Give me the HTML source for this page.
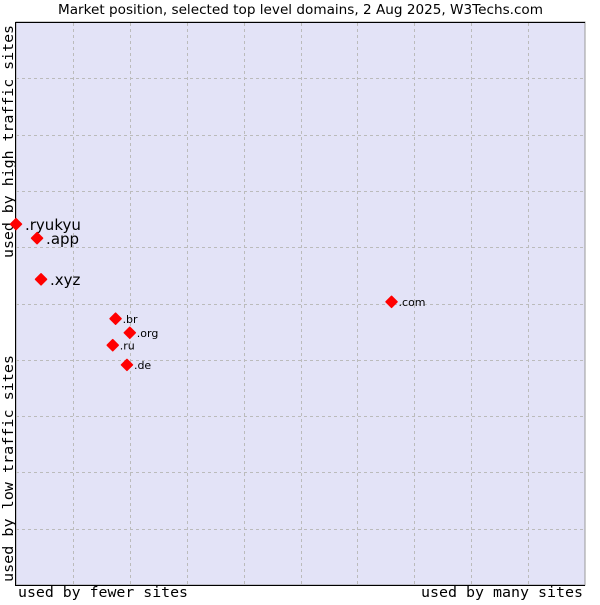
<!DOCTYPE html>
<html><head><meta charset="utf-8"><style>
body{margin:0;background:#fff;}
svg text{font-family:"DejaVu Sans","Liberation Sans",sans-serif;}
</style></head><body>
<svg id="chart" width="600" height="600" xmlns="http://www.w3.org/2000/svg">
<text x="58" y="14" textLength="485" lengthAdjust="spacingAndGlyphs" font-size="13" fill="#000">Market position, selected top level domains, 2 Aug 2025, W3Techs.com</text>
<rect x="16" y="22" width="569" height="563" fill="#e3e3f7" stroke="#999" stroke-width="1"/>
<g id="grid"></g>
<line x1="15.5" y1="22" x2="15.5" y2="585" stroke="#000"/>
<line x1="15" y1="22.5" x2="585" y2="22.5" stroke="#000"/>
<line x1="15" y1="585.5" x2="585" y2="585.5" stroke="#000"/>
<text transform="translate(13,258) rotate(-90)" textLength="233" lengthAdjust="spacingAndGlyphs" font-size="14" fill="#000" style="font-family:'DejaVu Sans Mono','Liberation Mono',monospace">used by high traffic sites</text>
<text transform="translate(13,582) rotate(-90)" textLength="227" lengthAdjust="spacingAndGlyphs" font-size="14" fill="#000" style="font-family:'DejaVu Sans Mono','Liberation Mono',monospace">used by low traffic sites</text>
<text x="18" y="597" textLength="170" lengthAdjust="spacingAndGlyphs" font-size="14" fill="#000" style="font-family:'DejaVu Sans Mono','Liberation Mono',monospace">used by fewer sites</text>
<text x="421" y="597" textLength="162" lengthAdjust="spacingAndGlyphs" font-size="14" fill="#000" style="font-family:'DejaVu Sans Mono','Liberation Mono',monospace">used by many sites</text>
<g id="points"></g>
</svg>
<script>
const domains=[".ryukyu",".app",".xyz",".com",".br",".org",".ru",".de"];
const xValues=[0,3.7,4.4,66.0,17.5,20.0,17.0,19.5];
const yValues=[64.1,61.6,54.3,50.3,47.3,44.8,42.6,39.1];
const labelSizes=[15,15,15,11,11,11,11,11];
const X0=16,X1=585,Y0=585,Y1=22;
const xs=v=>X0+v/100*(X1-X0);
const ys=v=>Y0-v/100*(Y0-Y1);
const NS="http://www.w3.org/2000/svg";
const grid=document.getElementById('grid');
for(let i=1;i<10;i++){
  const l=document.createElementNS(NS,'line');
  
  
  const x=Math.round(xs(i*10))+0.5;
  l.setAttribute('x1',x);l.setAttribute('x2',x);l.setAttribute('y1',23);l.setAttribute('y2',585);
  l.setAttribute('stroke','#bbb');l.setAttribute('stroke-dasharray','3,3');grid.appendChild(l);
  const h=document.createElementNS(NS,'line');
  
  
  const y=Math.round(ys(i*10))+0.5;
  h.setAttribute('x1',16);h.setAttribute('x2',585);h.setAttribute('y1',y);h.setAttribute('y2',y);
  h.setAttribute('stroke','#bbb');h.setAttribute('stroke-dasharray','3,3');grid.appendChild(h);
}
const pts=document.getElementById('points');
domains.forEach((d,i)=>{
  const x=xs(xValues[i]),y=ys(yValues[i]);
  const p=document.createElementNS(NS,'polygon');
  
  
  p.setAttribute('points',`${x},${y-5.5} ${x+5.5},${y} ${x},${y+5.5} ${x-5.5},${y}`);
  p.setAttribute('fill','#f00');p.setAttribute('stroke','#f00');p.setAttribute('stroke-linejoin','round');p.setAttribute('stroke-width','1.5');
  pts.appendChild(p);
  const t=document.createElementNS(NS,'text');
  
  
  t.setAttribute('x',x+(labelSizes[i]>12?9:7));
  t.setAttribute('y',y+labelSizes[i]*0.38);
  t.setAttribute('font-size',labelSizes[i]);
  t.textContent=d;pts.appendChild(t);
});
</script>
</body></html>
